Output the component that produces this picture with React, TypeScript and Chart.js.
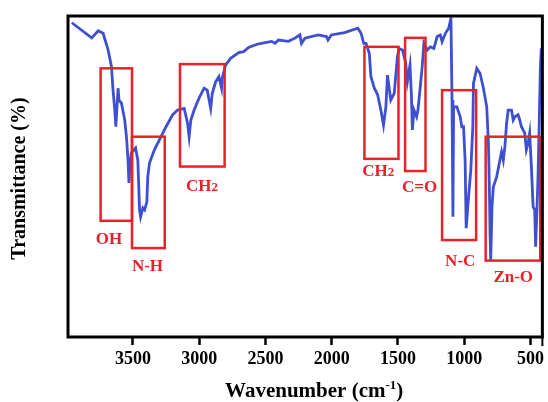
import { useEffect, useRef } from "react";
import { Chart, registerables } from "chart.js";

Chart.register(...registerables);

// FTIR spectrum: wavenumber (cm-1) vs transmittance (arbitrary %)
const wavenumbers = [
  3961, 3811, 3762, 3725, 3687, 3662, 3650, 3637, 3629, 3612,
  3605, 3587, 3562, 3549, 3537, 3530, 3525, 3512, 3480, 3463,
  3450, 3442, 3425, 3412, 3395, 3388, 3375, 3338, 3300, 3250,
  3201, 3163, 3113, 3088, 3076, 3063, 3038, 3001, 2963, 2939,
  2913, 2901, 2876, 2851, 2831, 2826, 2801, 2763, 2701, 2664,
  2627, 2564, 2501, 2454, 2427, 2402, 2327, 2277, 2240, 2228,
  2202, 2103, 2040, 2028, 2003, 1903, 1803, 1778, 1758, 1741,
  1716, 1704, 1678, 1653, 1629, 1609, 1591, 1579, 1554, 1528,
  1504, 1491, 1466, 1441, 1429, 1409, 1399, 1391, 1379, 1359,
  1349, 1334, 1317, 1304, 1279, 1255, 1229, 1204, 1180, 1167,
  1142, 1117, 1100, 1092, 1085, 1080, 1055, 1030, 1018, 1005,
  993, 985, 967, 950, 935, 930, 905, 880, 855, 830,
  817, 810, 805, 800, 790, 780, 755, 735, 718, 705,
  693, 680, 668, 643, 630, 618, 593, 581, 568, 543,
  531, 518, 506, 493, 480, 468, 461, 450, 443, 435,
  425, 418,
];

const transmittance = [
  97.9, 93.2, 95.4, 94.6, 89.4, 84.2, 76.9, 70.7, 65.5, 77.5,
  73.8, 72.9, 67.6, 62.4, 55.1, 48.0, 52.0, 57.3, 58.9, 55.1,
  39.6, 37.4, 40.2, 39.6, 42.1, 49.9, 54.2, 58.3, 61.4, 65.5,
  69.2, 70.7, 71.2, 66.7, 62.4, 67.6, 70.7, 74.4, 77.5, 76.9,
  71.2, 75.9, 79.5, 81.1, 77.5, 80.6, 84.7, 86.8, 88.6, 88.9,
  90.2, 91.2, 91.7, 92.1, 91.5, 92.5, 92.1, 93.1, 94.1, 91.5,
  93.1, 94.1, 93.6, 92.5, 94.1, 94.8, 96.2, 94.6, 91.5, 91.5,
  88.4, 81.1, 77.5, 75.4, 70.7, 66.0, 71.7, 81.6, 73.8, 75.9,
  87.3, 89.9, 89.4, 85.3, 79.5, 84.7, 75.9, 64.5, 70.7, 68.6,
  70.7, 76.9, 84.2, 91.5, 89.4, 90.4, 89.9, 93.6, 94.1, 92.0,
  94.6, 96.2, 99.3, 73.8, 37.5, 71.7, 71.7, 68.6, 65.5, 65.5,
  55.1, 33.9, 43.7, 52.0, 65.5, 79.0, 83.7, 82.1, 77.5, 71.7,
  60.3, 46.8, 32.3, 24.0, 40.6, 46.8, 49.9, 54.1, 57.7, 55.1,
  59.3, 66.6, 70.7, 70.7, 67.6, 68.6, 69.2, 67.6, 65.5, 63.5,
  58.3, 60.3, 63.5, 53.1, 40.6, 39.6, 28.1, 40.6, 49.9, 64.5,
  84.2, 89.9,
];

const xTicks = [3500, 3000, 2500, 2000, 1500, 1000, 500];

// Assigned bands: box edges (wavenumber / transmittance) and label anchors
const bandNames = ["OH", "N-H", "CH2", "CH2", "C=O", "N-C", "Zn-O"];
const bandHigh = [3744, 3507, 3145, 1753, 1446, 1167, 838];
const bandLow = [3507, 3260, 2808, 1496, 1292, 910, 426];
const bandTop = [83.7, 62.4, 85.0, 90.4, 93.2, 76.9, 62.4];
const bandBottom = [36.2, 27.7, 53.1, 55.5, 51.7, 30.2, 23.8];
const labelX = [3680, 3390, 2978, 1648, 1337, 1030, 630];
const labelY = [30.7, 22.4, 47.4, 52.0, 47.0, 24.0, 19.0];

const SERIF = '"Liberation Serif", "Times New Roman", serif';
const RED = "#e8212b";

function drawBandLabel(ctx: CanvasRenderingContext2D, text: string, cx: number, cy: number) {
  ctx.fillStyle = RED;
  ctx.textBaseline = "alphabetic";
  ctx.textAlign = "left";
  const big = `bold 17px ${SERIF}`;
  const small = `bold 13px ${SERIF}`;
  const base = cy + 6;
  if (text === "CH2") {
    ctx.font = big;
    const w1 = ctx.measureText("CH").width;
    ctx.font = small;
    const w2 = ctx.measureText("2").width;
    const x0 = cx - (w1 + w2) / 2;
    ctx.font = big;
    ctx.fillText("CH", x0, base);
    ctx.font = small;
    ctx.fillText("2", x0 + w1, base);
  } else {
    ctx.font = big;
    const w = ctx.measureText(text).width;
    ctx.fillText(text, cx - w / 2, base);
  }
}

const decorPlugin = {
  id: "spectrumDecor",
  afterDatasetsDraw(chart: any) {
    const { ctx, chartArea: a, scales } = chart;
    const x = scales.x;
    const y = scales.y;
    ctx.save();

    // band boxes
    ctx.strokeStyle = RED;
    ctx.lineWidth = 2.5;
    for (let i = 0; i < bandNames.length; i++) {
      const l = x.getPixelForValue(bandHigh[i]);
      const r = x.getPixelForValue(bandLow[i]);
      const t = y.getPixelForValue(bandTop[i]);
      const b = y.getPixelForValue(bandBottom[i]);
      ctx.strokeRect(l, t, r - l, b - t);
    }
    for (let i = 0; i < bandNames.length; i++) {
      drawBandLabel(ctx, bandNames[i], x.getPixelForValue(labelX[i]), y.getPixelForValue(labelY[i]));
    }

    // plot frame
    ctx.strokeStyle = "#000";
    ctx.lineWidth = 3;
    ctx.strokeRect(a.left, a.top, a.right - a.left, a.bottom - a.top);
    ctx.lineWidth = 2;
    ctx.beginPath();
    ctx.moveTo(a.right, a.bottom);
    ctx.lineTo(a.right, a.bottom + 9);
    ctx.stroke();

    // x-axis title with superscript
    ctx.fillStyle = "#000";
    ctx.textBaseline = "alphabetic";
    ctx.textAlign = "left";
    const main = `bold 21px ${SERIF}`;
    const sup = `bold 13px ${SERIF}`;
    ctx.font = main;
    const p1 = "Wavenumber (cm";
    const w1 = ctx.measureText(p1).width;
    const w3 = ctx.measureText(")").width;
    ctx.font = sup;
    const w2 = ctx.measureText("-1").width;
    const cx = (a.left + a.right) / 2 + 9;
    const x0 = cx - (w1 + w2 + w3) / 2;
    const base = 397;
    ctx.font = main;
    ctx.fillText(p1, x0, base);
    ctx.font = sup;
    ctx.fillText("-1", x0 + w1, base - 8);
    ctx.font = main;
    ctx.fillText(")", x0 + w1 + w2, base);

    // y-axis title
    ctx.font = `bold 20px ${SERIF}`;
    ctx.translate(20, (a.top + a.bottom) / 2 + 2);
    ctx.rotate(-Math.PI / 2);
    ctx.textAlign = "center";
    ctx.textBaseline = "middle";
    ctx.fillText("Transmittance (%)", 0, 0);

    ctx.restore();
  },
};

export default function App() {
  const canvasRef = useRef<HTMLCanvasElement | null>(null);

  useEffect(() => {
    document.body.style.margin = "0";
    const canvas = canvasRef.current;
    if (!canvas) return;
    const points = wavenumbers.map((w, i) => ({ x: w, y: transmittance[i] }));
    const chart = new Chart(canvas, {
      type: "line",
      data: {
        datasets: [
          {
            data: points,
            borderColor: "#3e4fd0",
            borderWidth: 2.8,
            pointRadius: 0,
            tension: 0,
            fill: false,
          },
        ],
      },
      options: {
        animation: false,
        responsive: false,
        devicePixelRatio: 1,
        layout: { padding: { left: 68, top: 16, right: 2, bottom: 0 } },
        plugins: { legend: { display: false }, tooltip: { enabled: false } },
        scales: {
          x: {
            type: "linear",
            reverse: true,
            min: 410,
            max: 3990,
            afterBuildTicks: (scale: any) => {
              scale.ticks = xTicks.map((v) => ({ value: v }));
            },
            afterFit: (scale: any) => {
              scale.height = 65;
            },
            ticks: {
              autoSkip: false,
              maxRotation: 0,
              padding: 4,
              color: "#000",
              font: { family: SERIF, size: 18, weight: "bold" },
              callback: (v: any) => String(v),
            },
            grid: {
              display: true,
              drawOnChartArea: false,
              drawTicks: true,
              tickLength: 8,
              tickWidth: 2.5,
              tickColor: "#000",
            },
            border: { display: false },
          },
          y: {
            display: false,
            min: 0,
            max: 100,
          },
        },
      },
      plugins: [decorPlugin],
    });
    return () => chart.destroy();
  }, []);

  return (
    <div style={{ width: 548, height: 402 }}>
      <canvas ref={canvasRef} width={548} height={402} style={{ display: "block" }} />
    </div>
  );
}
